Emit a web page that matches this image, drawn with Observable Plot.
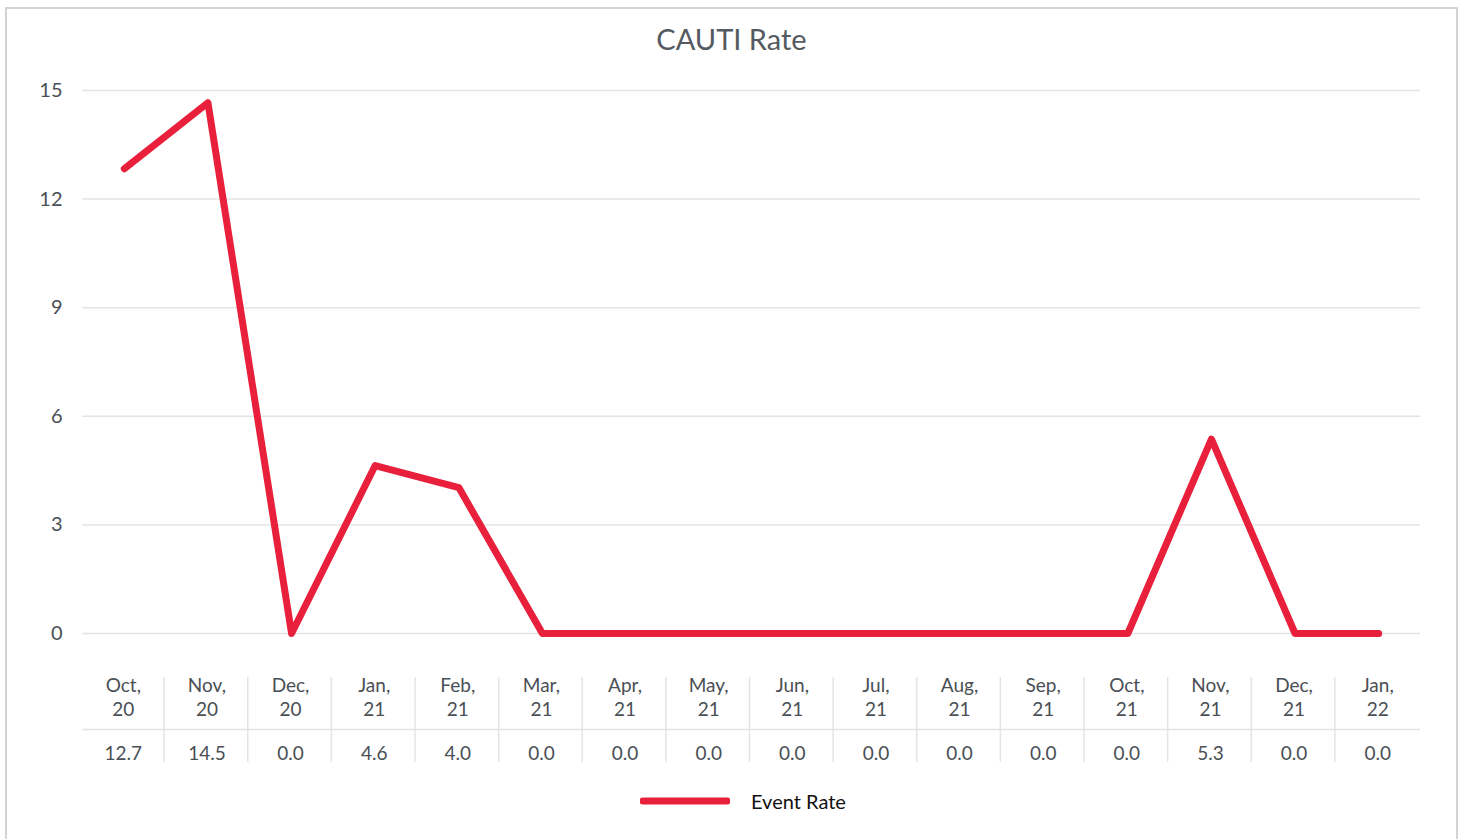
<!DOCTYPE html>
<html>
<head>
<meta charset="utf-8">
<script src="https://cdn.jsdelivr.net/npm/d3@7"></script>
<script src="https://cdn.jsdelivr.net/npm/@observablehq/plot@0.6"></script>
<style>
  html, body { margin: 0; padding: 0; background: #fff; overflow: hidden; }
  body { width: 1463px; height: 839px; position: relative; font-family: Lato, "Open Sans", sans-serif; }
  #frame { position: absolute; left: 5px; top: 7px; width: 1453px; height: 860px; border: 2px solid #d3d3d3; box-sizing: border-box; }
  #title { position: absolute; left: 0; width: 1463px; top: 21px; text-align: center; font-size: 29px; color: #555a61; }
  #chart { position: absolute; left: 0; top: 0; }
  #legend { position: absolute; left: 640px; top: 789px; display: flex; align-items: center; gap: 21px; font-size: 20px; color: #111; }
</style>
</head>
<body>
<div id="frame"></div>
<div id="chart"></div>
<div id="title">CAUTI Rate</div>
<div id="legend"><svg width="90" height="8"><line x1="3" y1="4" x2="87" y2="4" stroke="#e8203b" stroke-width="7" stroke-linecap="round"/></svg><span>Event Rate</span></div>
<script>
const months = ["Oct,\n20","Nov,\n20","Dec,\n20","Jan,\n21","Feb,\n21","Mar,\n21","Apr,\n21","May,\n21","Jun,\n21","Jul,\n21","Aug,\n21","Sep,\n21","Oct,\n21","Nov,\n21","Dec,\n21","Jan,\n22"];
// plotted values
const rates = [12.84, 14.66, 0.0, 4.64, 4.03, 0.0, 0.0, 0.0, 0.0, 0.0, 0.0, 0.0, 0.0, 5.37, 0.0, 0.0];
// values printed in the table
const rateLabels = ["12.7","14.5","0.0","4.6","4.0","0.0","0.0","0.0","0.0","0.0","0.0","0.0","0.0","5.3","0.0","0.0"];
const yTicks = [0, 3, 6, 9, 12, 15];

const data = months.map((m, i) => ({month: m, rate: rates[i], label: rateLabels[i]}));

const W = 1463, H = 839;
const mL = 82, mR = 43, mT = 90, mB = 206;
const step = (W - mL - mR) / months.length;

const chart = Plot.plot({
  width: W, height: H,
  marginLeft: mL, marginRight: mR, marginTop: mT, marginBottom: mB,
  style: {fontFamily: "Lato, 'Open Sans', sans-serif", background: "transparent", overflow: "visible"},
  x: {type: "point", domain: months, padding: 0.5, round: false, axis: null},
  y: {domain: [0, 15], ticks: yTicks, axis: null},
  marks: [
    Plot.gridY(yTicks, {stroke: "#e4e4e4", strokeOpacity: 1, strokeWidth: 1.5}),
    Plot.axisY(yTicks, {tickSize: 0, tickPadding: 20, fontSize: 20, fill: "#4a4f55", label: null, tickFormat: d => String(d)}),
    // table separators
    Plot.ruleX(months.slice(0, -1), {x: d => d, dx: step / 2 - 2, stroke: "#e4e4e4", strokeWidth: 1.5, insetTop: 587, insetBottom: -129}),
    Plot.ruleY([0], {dy: 96, stroke: "#e4e4e4", strokeWidth: 1.5}),
    // category labels
    Plot.text(data, {x: "month", text: "month", frameAnchor: "bottom", dx: -1, dy: 63, fontSize: 19, lineHeight: 1.27, fill: "#4a4f55", lineAnchor: "middle"}),
    // values
    Plot.text(data, {x: "month", text: "label", frameAnchor: "bottom", dx: -1, dy: 120, fontSize: 19, fill: "#4a4f55", lineAnchor: "middle"}),
    Plot.line(data, {x: "month", y: "rate", stroke: "#e8203b", strokeWidth: 7, strokeLinecap: "round", strokeLinejoin: "round"})
  ]
});
document.getElementById("chart").appendChild(chart);
</script>
</body>
</html>
